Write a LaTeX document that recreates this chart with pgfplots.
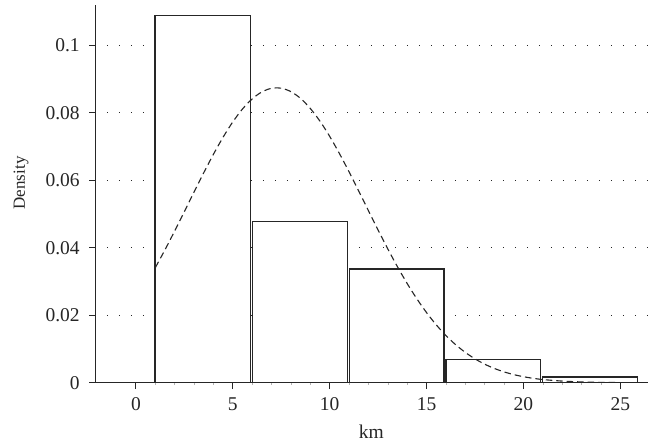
\documentclass[border=0pt]{standalone}
\usepackage{fontspec}
\setmainfont{Liberation Serif}
\usepackage{pgfplots}
\pgfplotsset{compat=1.18}
\definecolor{ink}{gray}{0.15}
\begin{document}
\begin{tikzpicture}
\useasboundingbox (-95.7pt,-64.3pt) rectangle (562.3pt,382.7pt);
\begin{axis}[
  at={(0pt,0pt)}, anchor=south west,
  scale only axis, width=552.3pt, height=377.7pt,
  xmin=-2.08, xmax=26.43, ymin=0, ymax=0.11195,
  axis lines=left,
  axis line style={-, line width=1.1pt, color=ink},
  tick align=outside,
  major tick length=6.5pt,
  minor tick length=2.5pt,
  /pgf/number format/assume math mode=true,
  xtick={0,5,10,15,20,25},
  xticklabels={0,5,10,15,20,25},
  minor x tick num=4,
  minor tick style={line width=0.6pt, color=gray!60},
  ytick={0,0.02,0.04,0.06,0.08,0.1},
  yticklabels={0,0.02,0.04,0.06,0.08,0.1},
  major tick style={line width=1pt, color=ink},
  ticklabel style={font=\fontsize{19.5}{22}\selectfont, text=ink},
  xticklabel style={yshift=-5pt},
  yticklabel style={xshift=-6pt},
  xlabel={km}, ylabel={Density},
  xlabel style={at={(axis description cs:0.499,-0.147)}, anchor=base, font=\fontsize{19.5}{22}\selectfont, text=ink},
  ylabel style={at={(axis description cs:-0.1353,0.529)}, anchor=center, font=\fontsize{17}{19}\selectfont, text=ink},
]
% dotted grid
\addplot[ink, line width=1pt, dash pattern=on 0.9pt off 11.1pt] coordinates {(-1.5,0.02) (26.43,0.02)};
\addplot[ink, line width=1pt, dash pattern=on 0.9pt off 11.1pt] coordinates {(-1.5,0.04) (26.43,0.04)};
\addplot[ink, line width=1pt, dash pattern=on 0.9pt off 11.1pt] coordinates {(-1.5,0.06) (26.43,0.06)};
\addplot[ink, line width=1pt, dash pattern=on 0.9pt off 11.1pt] coordinates {(-1.5,0.08) (26.43,0.08)};
\addplot[ink, line width=1pt, dash pattern=on 0.9pt off 11.1pt] coordinates {(-1.5,0.1) (26.43,0.1)};
% histogram bars
\addplot[draw=ink, line width=1.1pt, fill=white] coordinates {(0.98,0) (0.98,0.1088) (5.93,0.1088) (5.93,0)} \closedcycle;
\addplot[draw=ink, line width=1.1pt, fill=white] coordinates {(6.01,0) (6.01,0.0479) (10.92,0.0479) (10.92,0)} \closedcycle;
\addplot[draw=ink, line width=1.1pt, fill=white] coordinates {(11.0,0) (11.0,0.0337) (15.9,0.0337) (15.9,0)} \closedcycle;
\addplot[draw=ink, line width=1.1pt, fill=white] coordinates {(16.0,0) (16.0,0.0070) (20.9,0.0070) (20.9,0)} \closedcycle;
\addplot[draw=ink, line width=1.1pt, fill=white] coordinates {(21.0,0) (21.0,0.0017) (25.88,0.0017) (25.88,0)} \closedcycle;
% density curve
\addplot[ink, line width=1.1pt, dash pattern=on 6.5pt off 4pt, smooth] coordinates {
(1,0.03414) (1.5,0.03943) (2,0.04500) (2.5,0.05075) (3,0.05655) (3.5,0.06226)
(4,0.06773) (4.5,0.07280) (5,0.07732) (5.5,0.08114) (6,0.08413) (6.5,0.08619)
(7,0.08726) (7.5,0.08728) (8,0.08626) (8.5,0.08424) (9,0.08127) (9.5,0.07749)
(10,0.07300) (10.5,0.06794) (11,0.06248) (11.5,0.05678) (12,0.05098) (12.5,0.04523)
(13,0.03964) (13.5,0.03434) (14,0.02938) (14.5,0.02485) (15,0.02077) (15.5,0.01714)
(16,0.01398) (16.5,0.01127) (17,0.00898) (17.5,0.00706) (18,0.00549) (18.5,0.00422)
(19,0.00320) (19.5,0.00240) (20,0.00178) (20.5,0.00130) (21,0.00094) (22,0.00048)
(23,0.00023) (24,0.000105) (25,0.00004) (26,0.000015)};
\end{axis}
\end{tikzpicture}
\end{document}
